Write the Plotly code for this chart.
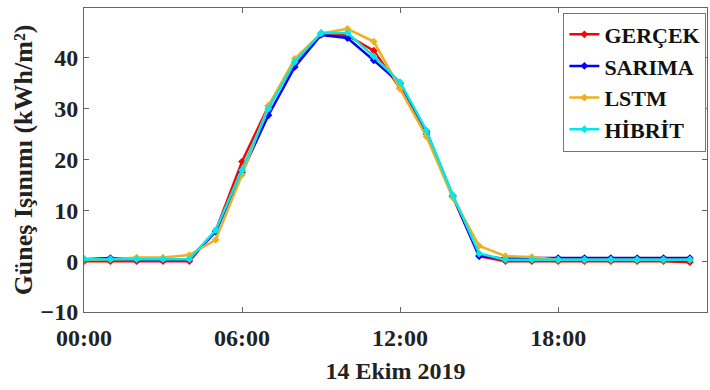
import plotly.graph_objects as go

hours = list(range(24))
gercek = [0.0, 0.0, 0.0, 0.0, 0.0, 6.0, 19.6, 30.5, 39.0, 44.8, 44.4, 41.4, 34.0, 25.0, 12.6, 1.0, 0.0, 0.0, 0.0, 0.0, 0.0, 0.0, 0.0, -0.2]
sarima = [0.4, 0.6, 0.4, 0.4, 0.4, 5.8, 17.5, 28.7, 38.2, 44.5, 43.9, 39.5, 35.0, 25.5, 12.8, 1.0, 0.5, 0.6, 0.6, 0.6, 0.6, 0.6, 0.6, 0.6]
lstm = [0.3, 0.4, 0.7, 0.7, 1.2, 4.2, 17.0, 30.5, 39.8, 44.8, 45.7, 43.2, 33.9, 24.5, 12.5, 3.0, 1.0, 0.8, 0.3, 0.3, 0.3, 0.3, 0.3, 0.3]
hibrit = [0.4, 0.4, 0.4, 0.4, 0.4, 6.1, 17.9, 30.0, 39.2, 44.9, 44.9, 40.3, 35.2, 25.7, 13.0, 1.5, 0.3, 0.3, 0.3, 0.3, 0.3, 0.3, 0.3, 0.3]

series_names = ["GERÇEK", "SARIMA", "LSTM", "HİBRİT"]
series_vals = [gercek, sarima, lstm, hibrit]
colors = ["#FF0000", "#0000FF", "#EDB120", "#00E8E8"]

xtick_vals = [0, 6, 12, 18]
xtick_text = ["00:00", "06:00", "12:00", "18:00"]
ytick_vals = [-10, 0, 10, 20, 30, 40]

font = "Liberation Serif"
fig = go.Figure()
for name, vals, col in zip(series_names, series_vals, colors):
    fig.add_trace(go.Scatter(
        x=hours, y=vals, name=name, mode="lines+markers",
        line=dict(color=col, width=2.5),
        marker=dict(color=col, size=6, symbol="diamond"),
    ))

axis_common = dict(showgrid=False, zeroline=False, showline=True, linecolor="#666666",
                   linewidth=1, mirror="ticks", ticks="inside", ticklen=5, tickcolor="#666666",
                   tickfont=dict(family=font, size=24, color="#222222", weight="bold"))

fig.update_layout(
    width=710, height=390,
    margin=dict(l=84, r=3, t=8, b=78),
    paper_bgcolor="white", plot_bgcolor="white",
    font=dict(family=font, size=24, color="#222222", weight="bold"),
    xaxis=dict(range=[0, 23.65], tickvals=xtick_vals, ticktext=xtick_text, ticklabelstandoff=4,
               title=dict(text="14 Ekim 2019", font=dict(family=font, size=24, color="#222222", weight="bold"), standoff=12),
               **axis_common),
    yaxis=dict(range=[-10, 49.8], tickvals=ytick_vals,
               title=dict(text="Güneş Işınımı (kWh/m²)", font=dict(family=font, size=26, color="#222222", weight="bold"), standoff=0),
               **axis_common),
    legend=dict(x=0.999, y=0.985, xanchor="right", yanchor="top",
                bgcolor="white", bordercolor="#777777", borderwidth=1,
                font=dict(family=font, size=22, color="#111111", weight="bold"),
                itemwidth=30, tracegroupgap=0),
)

fig.write_html("out.html")
